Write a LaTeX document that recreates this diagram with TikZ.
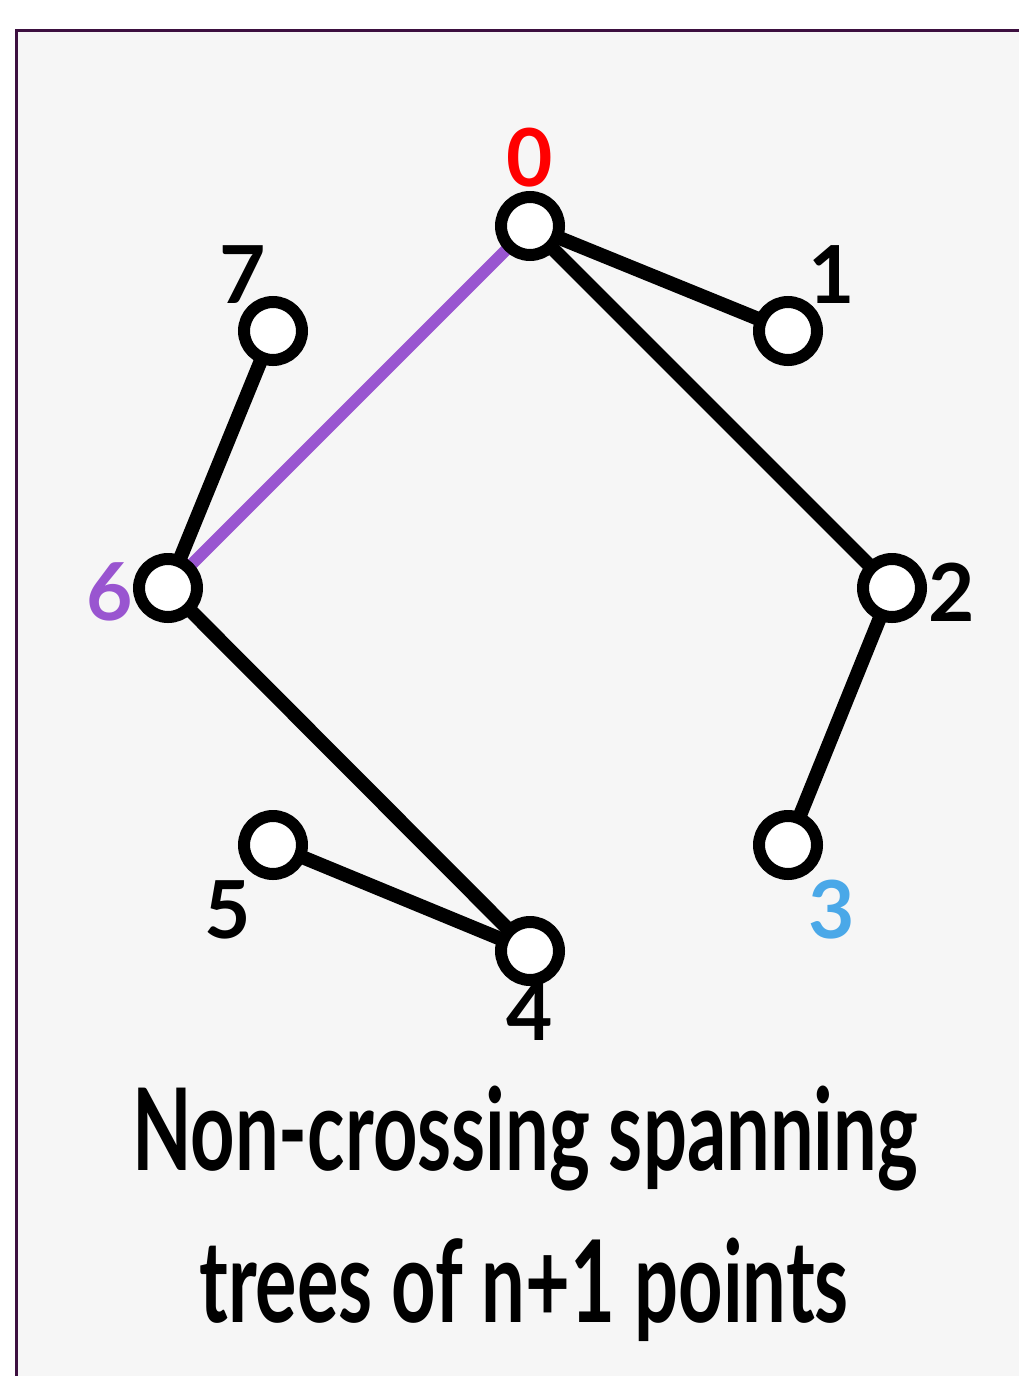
\documentclass[tikz,border=0pt]{standalone}
\usepackage{fontspec}
\setmainfont{Lato}
\usepackage{graphicx}
\definecolor{frame}{HTML}{3D1040}
\definecolor{panel}{HTML}{F6F6F6}
\definecolor{rootred}{HTML}{FF0000}
\definecolor{leafblue}{HTML}{4AA8E8}
\definecolor{violet}{HTML}{9955D0}
\pgfdeclarelayer{edges}
\pgfsetlayers{edges,main}
\tikzset{
  pt/.style={circle, draw=black, fill=white, line width=12pt, minimum size=58pt, inner sep=0pt},
  edge/.style={line width=14pt, black},
  rootedge/.style={line width=12pt, violet},
  lbl/.style={font=\fontsize{80}{80}\selectfont\bfseries, inner sep=0pt},
  caption/.style={inner sep=0pt, anchor=base},
}
\newcommand{\captionline}[1]{\scalebox{0.68}[1]{\fontsize{114}{114}\selectfont\bfseries #1}}
\begin{document}
\begin{tikzpicture}[x=1pt,y=-1pt]
  \useasboundingbox (0,0) rectangle (1019,1376);
  % panel with framed top and left sides
  \begin{pgfonlayer}{edges}
    \fill[panel] (16,30) rectangle (1019,1376);
    \draw[frame, line width=3pt] (16,1376) -- (16,30) -- (1019,30);
  \end{pgfonlayer}

  % points on the circle
  \node[pt] (p0) at (530,226) {};
  \node[pt] (p1) at (788,331) {};
  \node[pt] (p2) at (892,588) {};
  \node[pt] (p3) at (788,845) {};
  \node[pt] (p4) at (530,951) {};
  \node[pt] (p5) at (273,845) {};
  \node[pt] (p6) at (168,588) {};
  \node[pt] (p7) at (273,331) {};

  % tree edges, drawn beneath the points
  \begin{pgfonlayer}{edges}
    \draw[edge] (p0.center) -- (p1.center);
    \draw[edge] (p0.center) -- (p2.center);
    \draw[edge] (p2.center) -- (p3.center);
    \draw[edge] (p6.center) -- (p7.center);
    \draw[edge] (p6.center) -- (p4.center);
    \draw[edge] (p4.center) -- (p5.center);
    \draw[rootedge] (p0.center) -- (p6.center);
  \end{pgfonlayer}

  % labels
  \node[lbl, rootred] (l0) at (530,158) {0};
  \node[lbl] (l1) at (832,275) {1};
  \node[lbl] (l2) at (952,592) {2};
  \node[lbl, leafblue] (l3) at (832,910) {3};
  \node[lbl] (l4) at (530,1012) {4};
  \node[lbl] (l5) at (228,910) {5};
  \node[lbl, violet] (l6) at (110,592) {6};
  \node[lbl] (l7) at (243,275) {7};

  % caption
  \node[caption] (t1) at (525,1170) {\captionline{Non-crossing spanning}};
  \node[caption] (t2) at (524,1322) {\captionline{trees of n+1 points}};
\end{tikzpicture}
\end{document}
